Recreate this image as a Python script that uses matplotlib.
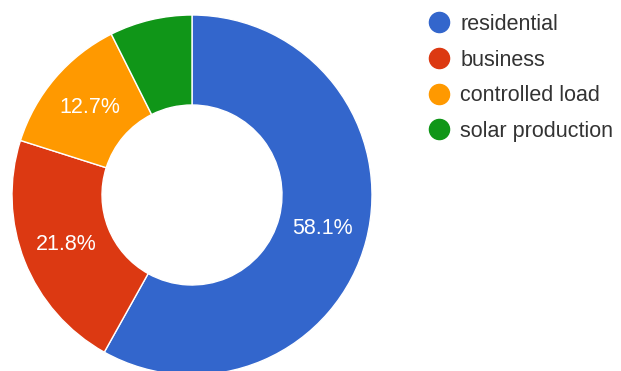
import matplotlib.pyplot as plt
from matplotlib.lines import Line2D

# data
categories = ['residential', 'business', 'controlled load', 'solar production']
shares = [58.1, 21.8, 12.7, 7.4]
colors = ['#3366cc', '#dc3912', '#ff9900', '#109618']

plt.rcParams['font.family'] = ['Liberation Sans', 'DejaVu Sans']

W, H = 621, 371
fig = plt.figure(figsize=(W / 100, H / 100), dpi=100)
ax = fig.add_axes([0, 0, 1, 1])
ax.set_xlim(0, W)
ax.set_ylim(0, H)
ax.set_aspect('equal')
ax.axis('off')

# donut is cut off at the bottom edge like in the screenshot
wedges, texts, autotexts = ax.pie(
    shares, colors=colors, startangle=90, counterclock=False,
    center=(192, H - 195), radius=180,
    autopct=lambda p: '%.1f%%' % p if p > 10 else '',
    pctdistance=0.75,
    wedgeprops=dict(width=90, edgecolor='white', linewidth=1),
    textprops=dict(color='white', fontsize=15.5))
ax.set_xlim(0, W)
ax.set_ylim(0, H)

handles = [Line2D([], [], marker='o', linestyle='none', markersize=14.5,
                  markerfacecolor=c, markeredgecolor=c) for c in colors]
leg = ax.legend(handles, categories, loc='upper left',
                bbox_to_anchor=(428 / W, 1 - 14 / H), frameon=False,
                fontsize=15.5, labelcolor='#333333', handlelength=1.0,
                handletextpad=0.5, labelspacing=0.68, borderpad=0,
                borderaxespad=0)

fig.savefig('out.png', dpi=100)
